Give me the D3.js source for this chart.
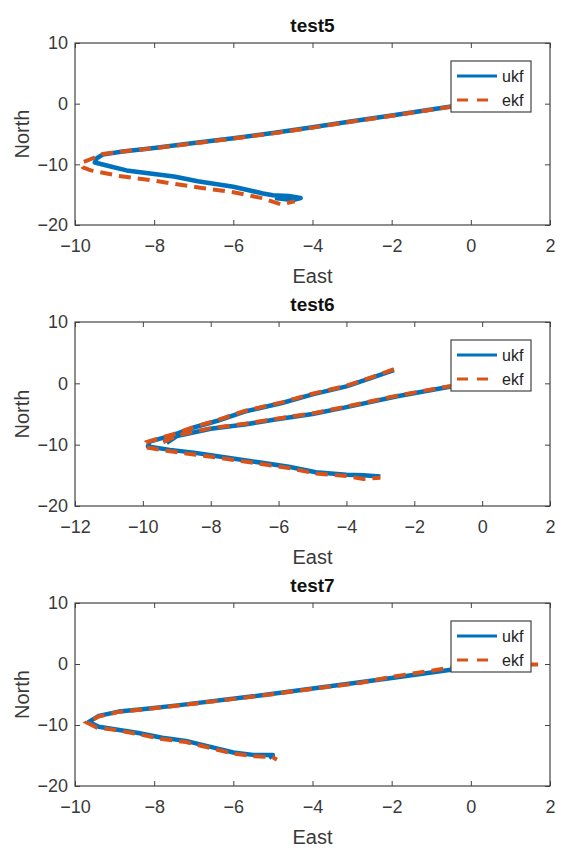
<!DOCTYPE html>
<html>
<head>
<meta charset="utf-8">
<script src="https://cdn.jsdelivr.net/npm/d3@7"></script>
<style>
  body { margin: 0; background: #fff; }
  svg text { font-family: "Liberation Sans", Arial, sans-serif; }
</style>
</head>
<body>
<svg id="fig" width="564" height="857"></svg>
<script>
'use strict';

// trajectories, [east, north]
const ukf5 = [[0,0],[-0.5,-0.45],[-1,-0.95],[-2,-1.95],[-3,-2.9],[-4,-3.9],[-5,-4.85],[-6,-5.7],[-7,-6.5],[-8,-7.3],[-8.8,-7.9],[-9.3,-8.4],[-9.45,-9.0],[-9.5,-9.7],[-9.2,-10.2],[-8.7,-11.0],[-8.0,-11.6],[-7.5,-12.0],[-6.9,-12.8],[-6.0,-13.7],[-5.25,-14.8],[-5.0,-15.1],[-4.6,-15.2],[-4.3,-15.55],[-4.5,-15.9],[-4.9,-15.6],[-4.6,-15.4]];
const ekf5 = [[0,0],[-0.5,-0.5],[-1,-1.0],[-2,-2.0],[-3,-2.95],[-4,-3.95],[-5,-4.9],[-6,-5.75],[-7,-6.55],[-8,-7.35],[-8.8,-7.9],[-9.3,-8.3],[-9.55,-9.0],[-9.85,-9.8],[-9.8,-10.5],[-9.6,-11.0],[-8.9,-11.9],[-8.0,-12.7],[-6.8,-13.9],[-6.0,-14.6],[-5.25,-15.6],[-4.8,-16.6],[-4.45,-16.1]];

const ukf6 = [[-2.6,2.15],[-3.2,1.0],[-4.0,-0.5],[-5.0,-1.8],[-5.9,-3.2],[-7.0,-4.6],[-7.8,-6.1],[-8.5,-7.2],[-9.1,-8.4],[-9.8,-9.5],[-9.85,-10.3],[-9.2,-10.85],[-8.5,-11.3],[-7.8,-11.9],[-6.8,-12.7],[-5.7,-13.6],[-4.9,-14.5],[-4.0,-14.9],[-3.5,-15.0],[-3.0,-15.2],
  null,[-9.3,-9.7],[-9.0,-8.6],[-8.0,-7.4],[-7.0,-6.7],[-6.1,-5.9],[-5.0,-5.0],[-4.1,-4.0],[-2.5,-2.1],[-1.0,-0.6],[0,0]];
const ekf6 = [[-2.6,2.3],[-3.2,1.1],[-4.0,-0.4],[-5.0,-1.7],[-5.9,-3.1],[-7.0,-4.5],[-7.8,-6.0],[-8.5,-7.1],[-9.1,-8.3],[-9.9,-9.6],[-9.95,-10.4],[-9.3,-11.0],[-8.5,-11.6],[-7.8,-12.1],[-6.8,-12.9],[-5.7,-13.8],[-4.9,-14.7],[-4.0,-15.1],[-3.5,-15.6],[-3.0,-15.4],
  null,[-9.4,-9.6],[-9.0,-8.5],[-8.0,-7.3],[-7.0,-6.6],[-6.1,-5.8],[-5.0,-4.9],[-4.1,-3.9],[-2.5,-2.0],[-1.0,-0.5],[0,0]];

const ukf7 = [[0,-0.5],[-0.5,-0.95],[-1,-1.4],[-2,-2.3],[-2.8,-3.0],[-3.9,-3.95],[-5.5,-5.3],[-7.3,-6.7],[-8.3,-7.4],[-8.9,-7.8],[-9.4,-8.5],[-9.65,-9.5],[-9.4,-10.3],[-9.0,-10.7],[-8.4,-11.3],[-7.8,-12.1],[-7.2,-12.6],[-6.5,-13.7],[-6.0,-14.5],[-5.5,-14.9],[-5.0,-14.9],[-5.1,-15.4]];
const ekf7 = [[1.7,-0.1],[1.0,-0.05],[0.3,-0.2],[-0.5,-0.6],[-1,-1.1],[-2,-2.1],[-2.8,-3.1],[-3.9,-4.0],[-5.5,-5.35],[-7.3,-6.75],[-8.3,-7.45],[-8.9,-7.85],[-9.4,-8.6],[-9.7,-9.6],[-9.45,-10.4],[-9.0,-10.8],[-8.4,-11.5],[-7.8,-12.3],[-7.2,-12.8],[-6.5,-13.9],[-6.0,-14.7],[-5.5,-15.1],[-5.0,-15.3],[-4.9,-15.7]];

const titles = ['test5', 'test6', 'test7'];
const xDomains = [[-10, 2], [-12, 2], [-10, 2]];
const yDomain = [-20, 10];
const yTicks = [-20, -10, 0, 10];
const seriesNames = ['ukf', 'ekf'];

const colors = { ukf: '#0072BD', ekf: '#D95319' };
const svg = d3.select('#fig');

// layout of each panel (pixels)
const left = 75, right = 550;
const panels = [
  { top: 43, bottom: 225, ukf: ukf5, ekf: ekf5 },
  { top: 322, bottom: 506, ukf: ukf6, ekf: ekf6 },
  { top: 603, bottom: 786, ukf: ukf7, ekf: ekf7 }
];

panels.forEach((p, i) => {
  const x = d3.scaleLinear().domain(xDomains[i]).range([left, right]);
  const y = d3.scaleLinear().domain(yDomain).range([p.bottom, p.top]);
  const xTicks = d3.range(xDomains[i][0], xDomains[i][1] + 1, 2);
  const g = svg.append('g');

  g.append('clipPath').attr('id', 'clip' + i)
    .append('rect')
    .attr('x', left).attr('y', p.top)
    .attr('width', right - left).attr('height', p.bottom - p.top);

  // inward ticks on all four sides, like matlab's box on
  const axB = g.append('g').attr('transform', `translate(0,${p.bottom})`)
    .call(d3.axisBottom(x).tickValues(xTicks).tickSize(-5).tickPadding(14));
  const axT = g.append('g').attr('transform', `translate(0,${p.top})`)
    .call(d3.axisTop(x).tickValues(xTicks).tickSize(-5).tickFormat(''));
  const axL = g.append('g').attr('transform', `translate(${left},0)`)
    .call(d3.axisLeft(y).tickValues(yTicks).tickSize(-5).tickPadding(7));
  const axR = g.append('g').attr('transform', `translate(${right},0)`)
    .call(d3.axisRight(y).tickValues(yTicks).tickSize(-5).tickFormat(''));

  [axB, axT, axL, axR].forEach(a => {
    a.select('.domain').remove();
    a.selectAll('line').attr('stroke', '#444');
    a.selectAll('text').attr('font-size', 18).attr('fill', '#3a3a3a')
      .attr('font-family', '"Liberation Sans", Arial, sans-serif');
  });

  const line = d3.line()
    .defined(d => d !== null)
    .x(d => x(d[0]))
    .y(d => y(d[1]));

  const plot = g.append('g').attr('clip-path', `url(#clip${i})`);
  plot.append('path').datum(p.ukf)
    .attr('d', line)
    .attr('fill', 'none')
    .attr('stroke', colors.ukf)
    .attr('stroke-width', 4.5)
    .attr('stroke-linejoin', 'round');
  plot.append('path').datum(p.ekf)
    .attr('d', line)
    .attr('fill', 'none')
    .attr('stroke', colors.ekf)
    .attr('stroke-width', 4)
    .attr('stroke-dasharray', '12,7');

  g.append('rect')
    .attr('x', left).attr('y', p.top)
    .attr('width', right - left).attr('height', p.bottom - p.top)
    .attr('fill', 'none').attr('stroke', '#444').attr('stroke-width', 1.2);

  // title and labels
  g.append('text')
    .attr('x', (left + right) / 2).attr('y', p.top - 11)
    .attr('text-anchor', 'middle')
    .attr('font-size', 19).attr('font-weight', 'bold').attr('fill', '#111')
    .text(titles[i]);
  g.append('text')
    .attr('x', (left + right) / 2).attr('y', p.bottom + 58)
    .attr('text-anchor', 'middle')
    .attr('font-size', 20).attr('fill', '#3a3a3a')
    .text('East');
  g.append('text')
    .attr('transform', `translate(29,${(p.top + p.bottom) / 2}) rotate(-90)`)
    .attr('text-anchor', 'middle')
    .attr('font-size', 20).attr('fill', '#3a3a3a')
    .text('North');

  // legend
  const lg = g.append('g').attr('transform', `translate(451,${p.top + 18})`);
  lg.append('rect')
    .attr('width', 80).attr('height', 51)
    .attr('fill', '#fff').attr('stroke', '#444').attr('stroke-width', 1.2);
  seriesNames.forEach((s, k) => {
    const cy = 15 + k * 24;
    lg.append('line')
      .attr('x1', 6).attr('x2', 46).attr('y1', cy).attr('y2', cy)
      .attr('stroke', colors[s]).attr('stroke-width', 3)
      .attr('stroke-dasharray', s === 'ekf' ? '11,9' : null);
    lg.append('text')
      .attr('x', 51).attr('y', cy).attr('dy', '0.35em')
      .attr('font-size', 16).attr('fill', '#222')
      .text(s);
  });
});
</script>
</body>
</html>
